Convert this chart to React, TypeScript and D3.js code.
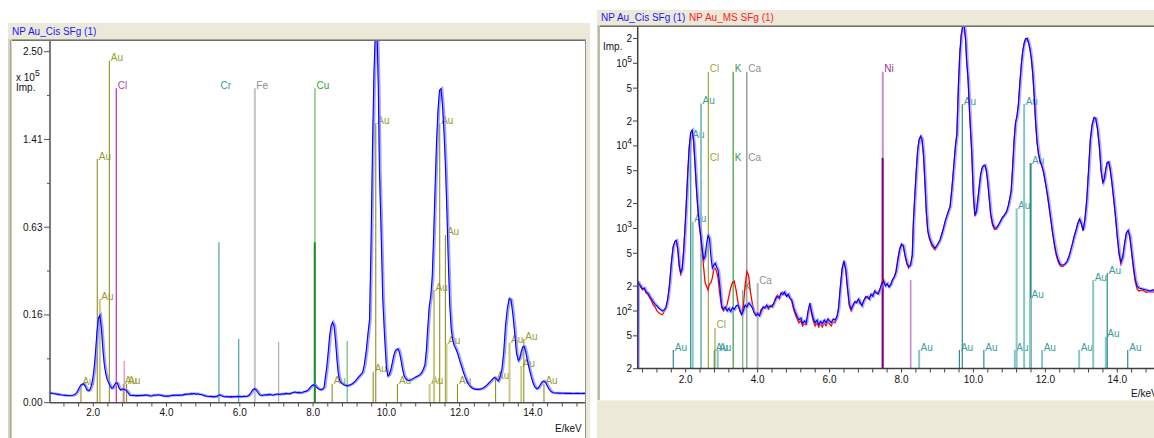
import React from "react";
import * as d3 from "d3";

// ---------- DATA ----------
// Spectrum "NP Au_Cis SFg (1)" : [energy keV, counts]
const cisSpectrum: [number, number][] = [
  [0.66, 5], [0.67, 230], [0.70, 215], [0.75, 200], [0.80, 185], [0.85, 190], [0.90, 170], [0.95, 165],
  [1.00, 150], [1.05, 140], [1.10, 128], [1.15, 120], [1.20, 115], [1.25, 108], [1.30, 104], [1.35, 100],
  [1.40, 103], [1.45, 112], [1.50, 140], [1.55, 210], [1.60, 380], [1.65, 600], [1.70, 700], [1.74, 720],
  [1.78, 560], [1.82, 360], [1.86, 290], [1.90, 320], [1.94, 520], [1.98, 1000], [2.02, 2200], [2.06, 5000],
  [2.10, 10000], [2.14, 14500], [2.18, 15500], [2.22, 11500], [2.26, 6000], [2.30, 3000], [2.34, 1700],
  [2.38, 1100], [2.42, 800], [2.46, 560], [2.50, 420], [2.54, 460], [2.58, 650], [2.62, 820], [2.66, 760],
  [2.70, 460], [2.74, 330], [2.78, 360], [2.82, 380], [2.86, 340], [2.90, 310], [2.94, 220],
  [3.00, 115], [3.05, 105], [3.10, 112], [3.15, 100], [3.20, 108], [3.25, 98], [3.30, 110], [3.35, 104],
  [3.40, 115], [3.45, 118], [3.50, 105], [3.55, 90], [3.60, 100], [3.65, 118], [3.70, 112], [3.75, 125],
  [3.80, 118], [3.85, 110], [3.90, 95], [3.95, 88], [4.00, 92], [4.05, 87], [4.10, 100], [4.15, 112],
  [4.20, 108], [4.25, 118], [4.30, 110], [4.35, 116], [4.40, 112], [4.45, 125], [4.50, 140], [4.55, 150],
  [4.60, 145], [4.65, 165], [4.70, 158], [4.75, 170], [4.80, 150], [4.85, 160], [4.90, 142], [4.95, 135],
  [5.00, 110], [5.05, 95], [5.10, 85], [5.15, 78], [5.20, 82], [5.25, 70], [5.30, 76], [5.35, 72],
  [5.40, 100], [5.45, 125], [5.50, 98], [5.55, 80], [5.60, 72], [5.65, 78], [5.70, 68], [5.75, 75],
  [5.80, 70], [5.85, 78], [5.90, 72], [5.95, 80], [6.00, 76], [6.05, 72], [6.10, 80], [6.15, 78],
  [6.20, 85], [6.25, 110], [6.30, 200], [6.35, 330], [6.40, 400], [6.45, 320], [6.50, 190], [6.55, 120],
  [6.60, 105], [6.65, 118], [6.70, 130], [6.75, 125], [6.80, 140], [6.85, 128], [6.90, 115], [6.95, 135],
  [7.00, 145], [7.05, 150], [7.10, 138], [7.15, 160], [7.20, 150], [7.25, 175], [7.30, 165], [7.35, 160],
  [7.40, 185], [7.45, 210], [7.50, 230], [7.55, 200], [7.60, 215], [7.65, 195], [7.70, 210], [7.75, 240],
  [7.80, 260], [7.85, 300], [7.90, 420], [7.95, 560], [8.00, 640], [8.05, 620], [8.10, 470], [8.15, 380],
  [8.20, 345], [8.25, 360], [8.30, 480],
  [8.33, 1200], [8.37, 2500], [8.41, 5000], [8.45, 9000], [8.49, 12000], [8.53, 13100], [8.57, 12000],
  [8.61, 8000], [8.65, 3800], [8.69, 1600], [8.73, 950], [8.78, 760], [8.85, 640], [8.93, 575], [9.00, 640],
  [9.07, 730], [9.15, 950], [9.22, 1250], [9.30, 1600], [9.35, 1850], [9.40, 3000], [9.45, 5500],
  [9.50, 10000], [9.54, 14000], [9.58, 50000], [9.62, 130000], [9.66, 220000], [9.70, 280000],
  [9.74, 290000], [9.78, 200000], [9.81, 110000], [9.85, 65000], [9.90, 22000], [9.95, 9000],
  [10.00, 2500], [10.04, 1450], [10.08, 1600], [10.12, 2200], [10.16, 3200], [10.20, 4500], [10.24, 5400],
  [10.28, 5800], [10.32, 5850], [10.36, 5000], [10.40, 3600], [10.44, 2300], [10.48, 1500], [10.53, 1150],
  [10.58, 1020], [10.63, 1000], [10.68, 1080], [10.74, 1200], [10.80, 1350], [10.86, 1450], [10.92, 1600],
  [10.97, 1900], [11.01, 2300], [11.05, 2900], [11.09, 5500], [11.13, 11700], [11.17, 19000],
  [11.21, 23000], [11.25, 32000], [11.29, 57000], [11.33, 95000], [11.37, 140000], [11.41, 175000],
  [11.45, 198000], [11.49, 200000], [11.53, 180000], [11.57, 150000], [11.61, 115000], [11.65, 75000],
  [11.69, 40000], [11.73, 19000], [11.77, 11000], [11.81, 8000], [11.85, 6600], [11.90, 5800],
  [11.95, 4800], [12.00, 3600], [12.05, 2700], [12.10, 1900], [12.15, 1300], [12.20, 900], [12.25, 650],
  [12.30, 500], [12.35, 420], [12.40, 375], [12.45, 360], [12.50, 360], [12.55, 375], [12.60, 400],
  [12.65, 450], [12.70, 540], [12.75, 650], [12.80, 800], [12.85, 950], [12.90, 1150], [12.95, 1300],
  [13.00, 1150], [13.05, 950], [13.10, 1300], [13.15, 2200], [13.20, 5000], [13.25, 12000],
  [13.30, 18000], [13.35, 22000], [13.40, 21500], [13.45, 16000], [13.50, 10000], [13.55, 5000],
  [13.60, 3600], [13.64, 4000], [13.68, 5300], [13.72, 6300], [13.76, 6400], [13.80, 5300], [13.85, 3600],
  [13.90, 2300], [13.95, 1400], [14.00, 800], [14.05, 500], [14.10, 390], [14.15, 450], [14.20, 650],
  [14.25, 880], [14.30, 950], [14.35, 800], [14.40, 520], [14.45, 340], [14.50, 240], [14.55, 200],
  [14.60, 190], [14.70, 185], [14.80, 180], [14.90, 175], [15.00, 180], [15.10, 172], [15.20, 178],
  [15.30, 170], [15.40, 175], [15.50, 172],
];

// Spectrum "NP Au_MS SFg (1)" : [energy keV, counts]
const msSpectrum: [number, number][] = [
  [0.66, 5], [0.67, 225], [0.70, 210], [0.75, 195], [0.80, 180], [0.85, 185], [0.90, 165], [0.95, 158],
  [1.00, 145], [1.05, 132], [1.10, 118], [1.15, 112], [1.20, 100], [1.25, 95], [1.30, 92], [1.35, 90],
  [1.40, 98], [1.45, 108], [1.50, 135], [1.55, 205], [1.60, 370], [1.65, 590], [1.70, 690], [1.74, 710],
  [1.78, 550], [1.82, 350], [1.86, 280], [1.90, 315], [1.94, 510], [1.98, 980], [2.02, 2150], [2.06, 4900],
  [2.10, 9800], [2.14, 14300], [2.18, 15300], [2.22, 11300], [2.26, 5900], [2.30, 2950], [2.34, 1650],
  [2.38, 1050], [2.42, 760], [2.46, 520], [2.50, 330], [2.54, 220], [2.58, 200], [2.62, 180], [2.66, 210],
  [2.70, 220], [2.74, 250], [2.78, 320], [2.82, 330], [2.86, 300], [2.90, 250], [2.94, 170],
  [3.00, 110], [3.05, 100], [3.10, 105], [3.15, 120], [3.20, 150], [3.25, 190], [3.30, 220], [3.35, 230],
  [3.40, 180], [3.45, 130], [3.50, 100], [3.55, 92], [3.60, 110], [3.65, 200], [3.70, 300], [3.75, 270],
  [3.80, 170], [3.85, 125], [3.90, 100], [3.95, 92], [4.00, 95], [4.05, 90], [4.10, 105], [4.15, 108],
  [4.20, 112], [4.25, 115], [4.30, 105], [4.35, 112], [4.40, 118], [4.45, 120], [4.50, 145], [4.55, 155],
  [4.60, 140], [4.65, 160], [4.70, 170], [4.75, 160], [4.80, 155], [4.85, 150], [4.90, 145], [4.95, 130],
  [5.00, 105], [5.05, 90], [5.10, 80], [5.15, 72], [5.20, 76], [5.25, 66], [5.30, 70], [5.35, 68],
  [5.40, 92], [5.45, 118], [5.50, 92], [5.55, 75], [5.60, 66], [5.65, 72], [5.70, 64], [5.75, 70],
  [5.80, 64], [5.85, 72], [5.90, 66], [5.95, 74], [6.00, 70], [6.05, 66], [6.10, 74], [6.15, 72],
  [6.20, 80], [6.25, 105], [6.30, 190], [6.35, 320], [6.40, 410], [6.45, 310], [6.50, 180], [6.55, 115],
  [6.60, 100], [6.65, 112], [6.70, 125], [6.75, 130], [6.80, 135], [6.85, 122], [6.90, 120], [6.95, 130],
  [7.00, 150], [7.05, 145], [7.10, 142], [7.15, 155], [7.20, 160], [7.25, 165], [7.30, 170], [7.35, 165],
  [7.40, 180], [7.45, 220], [7.50, 240], [7.55, 210], [7.60, 205], [7.65, 200], [7.70, 205], [7.75, 235],
  [7.80, 255], [7.85, 310], [7.90, 430], [7.95, 570], [8.00, 650], [8.05, 610], [8.10, 460], [8.15, 370],
  [8.20, 330], [8.25, 350], [8.30, 470],
  [8.33, 1150], [8.37, 2450], [8.41, 4900], [8.45, 8800], [8.49, 11800], [8.53, 12900], [8.57, 11800],
  [8.61, 7800], [8.65, 3700], [8.69, 1550], [8.73, 920], [8.78, 740], [8.85, 610], [8.93, 550], [9.00, 620],
  [9.07, 710], [9.15, 930], [9.22, 1230], [9.30, 1580], [9.35, 1820], [9.40, 2950], [9.45, 5400],
  [9.50, 9800], [9.54, 13800], [9.58, 49000], [9.62, 128000], [9.66, 218000], [9.70, 278000],
  [9.74, 288000], [9.78, 198000], [9.81, 108000], [9.85, 64000], [9.90, 21500], [9.95, 8800],
  [10.00, 2450], [10.04, 1400], [10.08, 1550], [10.12, 2150], [10.16, 3150], [10.20, 4450], [10.24, 5350],
  [10.28, 5750], [10.32, 5800], [10.36, 4950], [10.40, 3550], [10.44, 2250], [10.48, 1450], [10.53, 1100],
  [10.58, 980], [10.63, 970], [10.68, 1050], [10.74, 1180], [10.80, 1320], [10.86, 1420], [10.92, 1570],
  [10.97, 1870], [11.01, 2270], [11.05, 2850], [11.09, 5400], [11.13, 11500], [11.17, 18800],
  [11.21, 22800], [11.25, 31500], [11.29, 56000], [11.33, 94000], [11.37, 139000], [11.41, 174000],
  [11.45, 197000], [11.49, 199000], [11.53, 179000], [11.57, 149000], [11.61, 114000], [11.65, 74000],
  [11.69, 39500], [11.73, 18800], [11.77, 10800], [11.81, 7900], [11.85, 6500], [11.90, 5700],
  [11.95, 4750], [12.00, 3550], [12.05, 2650], [12.10, 1850], [12.15, 1270], [12.20, 880], [12.25, 630],
  [12.30, 480], [12.35, 400], [12.40, 360], [12.45, 345], [12.50, 350], [12.55, 365], [12.60, 390],
  [12.65, 440], [12.70, 530], [12.75, 640], [12.80, 790], [12.85, 940], [12.90, 1130], [12.95, 1280],
  [13.00, 1130], [13.05, 930], [13.10, 1280], [13.15, 2150], [13.20, 4900], [13.25, 11800],
  [13.30, 17800], [13.35, 21800], [13.40, 21300], [13.45, 15800], [13.50, 9900], [13.55, 4900],
  [13.60, 3500], [13.64, 3900], [13.68, 5200], [13.72, 6200], [13.76, 6300], [13.80, 5200], [13.85, 3550],
  [13.90, 2250], [13.95, 1370], [14.00, 780], [14.05, 480], [14.10, 370], [14.15, 430], [14.20, 630],
  [14.25, 860], [14.30, 930], [14.35, 780], [14.40, 500], [14.45, 320], [14.50, 225], [14.55, 185],
  [14.60, 175], [14.70, 180], [14.80, 168], [14.90, 172], [15.00, 170], [15.10, 165], [15.20, 172],
  [15.30, 165], [15.40, 170], [15.50, 168],
];

// Element marker lines: element, X-ray line, energy (keV), marker height (counts), labelled
type Marker = { el: string; line: string; e: number; h: number; label: boolean };

const leftMarkers: Marker[] = [
  { el: "Au", line: "Mz", e: 1.665, h: 690, label: true },
  { el: "Au", line: "Ma", e: 2.11, h: 120500, label: true },
  { el: "Au", line: "Mb", e: 2.18, h: 21800, label: true },
  { el: "Au", line: "Mg", e: 2.44, h: 237300, label: true },
  { el: "Cl", line: "Ka", e: 2.63, h: 200600, label: true },
  { el: "Au", line: "M2N4", e: 2.82, h: 710, label: true },
  { el: "Cl", line: "Kb", e: 2.845, h: 3530, label: false },
  { el: "Au", line: "M3O", e: 2.91, h: 710, label: true },
  { el: "Cr", line: "Ka", e: 5.43, h: 52200, label: false },
  { el: "Cr", line: "Kb", e: 5.97, h: 8230, label: false },
  { el: "Fe", line: "Ka", e: 6.41, h: 200600, label: true },
  { el: "Fe", line: "Kb", e: 7.06, h: 7550, label: false },
  { el: "Cu", line: "Ka1", e: 8.05, h: 200600, label: true },
  { el: "Cu", line: "Ka2", e: 8.045, h: 52200, label: false },
  { el: "Au", line: "Ll", e: 8.52, h: 710, label: true },
  { el: "Cu", line: "Kb", e: 8.93, h: 7720, label: false },
  { el: "Au", line: "La2", e: 9.64, h: 1950, label: true },
  { el: "Au", line: "La1", e: 9.71, h: 158400, label: true },
  { el: "Au", line: "Ln", e: 10.30, h: 710, label: true },
  { el: "Au", line: "Lb6", e: 11.18, h: 710, label: true },
  { el: "Au", line: "Lb4", e: 11.30, h: 25770, label: true },
  { el: "Au", line: "Lb1", e: 11.455, h: 158400, label: true },
  { el: "Au", line: "Lb2", e: 11.61, h: 57070, label: true },
  { el: "Au", line: "Lb3", e: 11.64, h: 7160, label: true },
  { el: "Au", line: "Lb5", e: 11.94, h: 710, label: true },
  { el: "Au", line: "Lg5", e: 12.98, h: 1140, label: true },
  { el: "Au", line: "Lg1", e: 13.36, h: 7300, label: true },
  { el: "Au", line: "Lg2", e: 13.68, h: 2730, label: true },
  { el: "Au", line: "Lg3", e: 13.75, h: 8230, label: true },
  { el: "Au", line: "Lg6", e: 14.30, h: 710, label: true },
];
const leftTags = [{ el: "Cr", e: 5.43, h: 200600 }];

const rightMarkers: Marker[] = [
  { el: "Au", line: "Mz", e: 1.655, h: 33.7, label: true },
  { el: "Au", line: "Ma", e: 2.14, h: 12800, label: true },
  { el: "Au", line: "Mb", e: 2.195, h: 1206, label: true },
  { el: "Au", line: "Mg", e: 2.425, h: 32700, label: true },
  { el: "Cl", line: "Ka", e: 2.63, h: 78900, label: true },
  { el: "Au", line: "M2N4", e: 2.795, h: 33.7, label: true },
  { el: "Cl", line: "Kb", e: 2.815, h: 62.3, label: true },
  { el: "Au", line: "M3O", e: 2.89, h: 33.7, label: true },
  { el: "K", line: "Ka", e: 3.32, h: 78900, label: true },
  { el: "K", line: "Kb", e: 3.585, h: 180, label: true },
  { el: "Ca", line: "Ka", e: 3.70, h: 78900, label: true },
  { el: "Ca", line: "Kb", e: 4.00, h: 218, label: true },
  { el: "Ni", line: "Ka1", e: 7.48, h: 78900, label: true },
  { el: "Ni", line: "Ka2", e: 7.475, h: 7120, label: false },
  { el: "Ni", line: "Kb", e: 8.255, h: 237, label: false },
  { el: "Au", line: "Ll", e: 8.49, h: 33.7, label: true },
  { el: "Au", line: "La2", e: 9.61, h: 33.7, label: true },
  { el: "Au", line: "La1", e: 9.69, h: 32100, label: true },
  { el: "Au", line: "Ln", e: 10.29, h: 33.7, label: true },
  { el: "Au", line: "Lb6", e: 11.15, h: 33.7, label: true },
  { el: "Au", line: "Lb4", e: 11.20, h: 1750, label: true },
  { el: "Au", line: "Lb1", e: 11.41, h: 32100, label: true },
  { el: "Au", line: "Lb2", e: 11.59, h: 6190, label: true },
  { el: "Au", line: "Lb3", e: 11.575, h: 144, label: true },
  { el: "Au", line: "Lb5", e: 11.91, h: 33.7, label: true },
  { el: "Au", line: "Lg5", e: 12.94, h: 33.7, label: true },
  { el: "Au", line: "Lg1", e: 13.33, h: 237, label: true },
  { el: "Au", line: "Lg2", e: 13.68, h: 48.9, label: true },
  { el: "Au", line: "Lg3", e: 13.72, h: 288, label: true },
  { el: "Au", line: "Lg6", e: 14.29, h: 33.7, label: true },
];
const rightTags = [
  { el: "Cl", e: 2.63, h: 6730 },
  { el: "K", e: 3.32, h: 6730 },
  { el: "Ca", e: 3.70, h: 6730 },
];

const leftYTicks = [0, 15625, 62500, 140625, 250000];
const leftYLabels = ["0.00", "0.16", "0.63", "1.41", "2.50"];
const leftYMinor = [3906, 35156, 97656, 191406];
const rightYTicks = [20, 50, 100, 200, 500, 1000, 2000, 5000, 10000, 20000, 50000, 100000, 200000];
const rightYLabels = ["2", "5", "10^2", "2", "5", "10^3", "2", "5", "10^4", "2", "5", "10^5", "2"];
const xMajor = [2, 4, 6, 8, 10, 12, 14];
const xLabels = ["2.0", "4.0", "6.0", "8.0", "10.0", "12.0", "14.0"];

const leftTitle = "NP Au_Cis SFg (1)";
const rightTitles = ["NP Au_Cis SFg (1)", "NP Au_MS SFg (1)"];

// ---------- STYLE ----------
const FONT = "'Liberation Sans', Arial, sans-serif";
const BEIGE = "#ECE9D8";
const lightLines = new Set(["Mb", "Mg", "M3O", "Ll", "Lb6", "Lb4", "Lb1", "Lb3", "Lb5", "Lg5", "Lg1", "Lg2"]);

function leftStyle(m: Marker) {
  if (m.el === "Au") {
    const light = ["Mb", "Lb4", "Lb3", "Lg1", "Lg2", "Lb6"].includes(m.line);
    return { stroke: light ? "#c9c985" : "#8f8f22", w: light ? 2 : 1.1, text: "#9b9b2e" };
  }
  if (m.el === "Cl") return m.line === "Ka" ? { stroke: "#c048c0", w: 1.4, text: "#b040b0" } : { stroke: "#d08ad0", w: 1.2, text: "#b040b0" };
  if (m.el === "Cr") return { stroke: "#3a9898", w: 1.1, text: "#3a9898" };
  if (m.el === "Fe") return m.line === "Ka" ? { stroke: "#c4c4c4", w: 2, text: "#8a8a8a" } : { stroke: "#a8a8a8", w: 1.1, text: "#8a8a8a" };
  if (m.el === "Cu") {
    if (m.line === "Ka2") return { stroke: "#1f8a1f", w: 2, text: "#3a9a3a" };
    if (m.line === "Kb") return { stroke: "#5cbc5c", w: 1.1, text: "#3a9a3a" };
    return { stroke: "#58ae58", w: 1.1, text: "#3a9a3a" };
  }
  return { stroke: "#888", w: 1, text: "#888" };
}

function rightStyle(m: Marker) {
  if (m.el === "Au") {
    const light = lightLines.has(m.line);
    return { stroke: light ? "#86c6c6" : "#2c8c8c", w: light ? 2 : (m.line === "Lb2" ? 2 : 1.2), text: "#3a9c9c" };
  }
  if (m.el === "Cl") return { stroke: "#a4a43a", w: 1.2, text: "#a4a43a" };
  if (m.el === "K") return { stroke: m.line === "Ka" ? "#3c9c3c" : "#6ab86a", w: 1.2, text: "#3c9c3c" };
  if (m.el === "Ca") return m.line === "Ka" ? { stroke: "#7a7a7a", w: 1.1, text: "#909090" } : { stroke: "#b4b4b4", w: 2, text: "#909090" };
  if (m.el === "Ni") {
    if (m.line === "Ka2") return { stroke: "#800080", w: 2, text: "#a03090" };
    if (m.line === "Kb") return { stroke: "#c88ac8", w: 1.6, text: "#a03090" };
    return { stroke: "#c890c8", w: 2, text: "#a03090" };
  }
  return { stroke: "#888", w: 1, text: "#888" };
}

export default function App() {
  // left panel scales (sqrt intensity)
  const xL = d3.scaleLinear().domain([0.82, 15.42]).range([50, 585]);
  const yL = d3.scaleSqrt().domain([0, 250000]).range([402.7, 51.7]);
  // right panel scales (log intensity)
  const xR = d3.scaleLinear().domain([2, 14]).range([685.7, 1117.3]);
  const yR = d3.scaleLog().domain([100, 100000]).range([311, 63.3]);

  const lineL = d3.line<[number, number]>().x((d) => xL(d[0])).y((d) => yL(d[1]));
  const lineR = d3.line<[number, number]>().x((d) => xR(d[0])).y((d) => yR(Math.max(d[1], 1)));

  const minorX = d3.range(0.8, 15.6, 0.4);
  const minorL = minorX.filter((v) => v >= 0.82 && v <= 15.42);
  const minorR = minorX.filter((v) => v >= 0.67);

  const txt = { fontFamily: FONT, fontSize: 10 } as const;

  return (
    <svg width={1154} height={438} style={{ position: "absolute", left: 0, top: 0, background: "#fff" }}>
      <defs>
        <clipPath id="clipL"><rect x={50} y={41} width={535} height={362} /></clipPath>
        <clipPath id="clipR"><rect x={637.7} y={27} width={520} height={341.5} /></clipPath>
      </defs>

      {/* ---------- LEFT PANEL FRAME ---------- */}
      <rect x={8} y={23} width={582} height={16} fill={BEIGE} />
      <line x1={8} x2={590} y1={39.5} y2={39.5} stroke="#a6a395" />
      <line x1={8} x2={586} y1={40.5} y2={40.5} stroke="#707070" />
      <rect x={8} y={39} width={4} height={399} fill="#d6d2c2" />
      <line x1={10.5} x2={10.5} y1={40} y2={438} stroke="#a8a490" />
      <rect x={586} y={39} width={4} height={399} fill={BEIGE} />
      <line x1={585.5} x2={585.5} y1={40} y2={438} stroke="#909090" />
      <text x={12} y={35} {...txt} fill="#1a1aff">{leftTitle}</text>

      {/* left markers */}
      <g>
        {leftMarkers.map((m, i) => {
          const s = leftStyle(m);
          const x = xL(m.e);
          const y = yL(m.h);
          return (
            <g key={i}>
              <line x1={x} x2={x} y1={402.7} y2={y} stroke={s.stroke} strokeWidth={s.w} />
              {m.label && (
                <text x={x + 1.5} y={y + 0.5} {...txt} fill={s.text}>{m.el}</text>
              )}
            </g>
          );
        })}
        {leftTags.map((t, i) => (
          <text key={i} x={xL(t.e) + 1.5} y={yL(t.h) + 0.5} {...txt} fill="#3a9898">{t.el}</text>
        ))}
      </g>

      {/* left spectrum */}
      <g clipPath="url(#clipL)">
        <path d={lineL(cisSpectrum) || ""} fill="none" stroke="#8c8cff" strokeWidth={2.6} transform="translate(1,0)" opacity={0.8} />
        <path d={lineL(cisSpectrum) || ""} fill="none" stroke="#0000ff" strokeWidth={1.1} />
      </g>

      {/* left axes */}
      <line x1={50} x2={50} y1={41} y2={403} stroke="#505050" strokeWidth={1.5} />
      <line x1={50} x2={585} y1={402.7} y2={402.7} stroke="#505050" strokeWidth={1.5} />
      {leftYTicks.map((v, i) => (
        <g key={i}>
          <line x1={44} x2={50} y1={yL(v)} y2={yL(v)} stroke="#505050" />
          <text x={42.5} y={yL(v)} dy="0.35em" textAnchor="end" {...txt} fill="#111">{leftYLabels[i]}</text>
        </g>
      ))}
      {leftYMinor.map((v, i) => (
        <line key={i} x1={47} x2={50} y1={yL(v)} y2={yL(v)} stroke="#505050" />
      ))}
      {minorL.map((v, i) => (
        <line key={i} x1={xL(v)} x2={xL(v)} y1={402.7} y2={406.5} stroke="#505050" />
      ))}
      {xMajor.map((v, i) => (
        <text key={i} x={xL(v)} y={416} textAnchor="middle" {...txt} fill="#111">{xLabels[i]}</text>
      ))}
      <text x={555} y={432} {...txt} fill="#111">E/keV</text>
      <text x={16} y={81} {...txt} fill="#111">x 10<tspan dy={-5} fontSize={8.5}>5</tspan></text>
      <text x={16} y={91} {...txt} fill="#111">Imp.</text>

      {/* ---------- RIGHT PANEL FRAME ---------- */}
      <rect x={597} y={10} width={557} height={15} fill={BEIGE} />
      <line x1={597} x2={1154} y1={25.5} y2={25.5} stroke="#a6a395" />
      <line x1={600} x2={1154} y1={26.5} y2={26.5} stroke="#707070" />
      <rect x={597} y={25} width={3} height={375} fill="#d6d2c2" />
      <line x1={599} x2={599} y1={26} y2={400} stroke="#a8a490" />
      <rect x={597} y={400} width={557} height={38} fill={BEIGE} />
      <line x1={597} x2={1154} y1={400.5} y2={400.5} stroke="#f4f2ea" />
      <text x={601} y={21} {...txt} fill="#1a1aff">{rightTitles[0]}</text>
      <text x={689} y={21} {...txt} fill="#ff2020">{rightTitles[1]}</text>

      {/* right markers */}
      <g>
        {rightMarkers.map((m, i) => {
          const s = rightStyle(m);
          const x = xR(m.e);
          const y = yR(m.h);
          return (
            <g key={i}>
              <line x1={x} x2={x} y1={368.5} y2={y} stroke={s.stroke} strokeWidth={s.w} />
              {m.label && (
                <text x={x + 1.5} y={y + 0.5} {...txt} fill={s.text}>{m.el}</text>
              )}
            </g>
          );
        })}
        {rightTags.map((t, i) => {
          const s = rightStyle({ el: t.el, line: "Ka", e: t.e, h: t.h, label: true });
          return <text key={i} x={xR(t.e) + 1.5} y={yR(t.h) + 0.5} {...txt} fill={s.text}>{t.el}</text>;
        })}
      </g>

      {/* right spectra */}
      <g clipPath="url(#clipR)">
        <path d={lineR(msSpectrum) || ""} fill="none" stroke="#ff0000" strokeWidth={1.3} />
        <path d={lineR(cisSpectrum) || ""} fill="none" stroke="#9090ff" strokeWidth={2.4} transform="translate(1,0)" opacity={0.7} />
        <path d={lineR(cisSpectrum) || ""} fill="none" stroke="#0000ff" strokeWidth={1.1} />
      </g>

      {/* right axes */}
      <line x1={637.7} x2={637.7} y1={27} y2={369} stroke="#404040" strokeWidth={1.5} />
      <line x1={637.7} x2={1154} y1={368.5} y2={368.5} stroke="#404040" strokeWidth={1.5} />
      {rightYTicks.map((v, i) => {
        const lab = rightYLabels[i];
        const pow = lab.startsWith("10^");
        return (
          <g key={i}>
            <line x1={633} x2={637.7} y1={yR(v)} y2={yR(v)} stroke="#404040" />
            <text x={632} y={yR(v)} dy="0.35em" textAnchor="end" {...txt} fill="#111">
              {pow ? "10" : lab}
              {pow && <tspan dy={-5} fontSize={8.5}>{lab.slice(3)}</tspan>}
            </text>
          </g>
        );
      })}
      {minorR.map((v, i) => (
        <line key={i} x1={xR(v)} x2={xR(v)} y1={368.5} y2={372.5} stroke="#404040" />
      ))}
      {xMajor.map((v, i) => (
        <text key={i} x={xR(v)} y={383} textAnchor="middle" {...txt} fill="#111">{xLabels[i]}</text>
      ))}
      <text x={1131} y={397} {...txt} fill="#111">E/keV</text>
      <text x={603} y={50} {...txt} fill="#111">Imp.</text>
    </svg>
  );
}
